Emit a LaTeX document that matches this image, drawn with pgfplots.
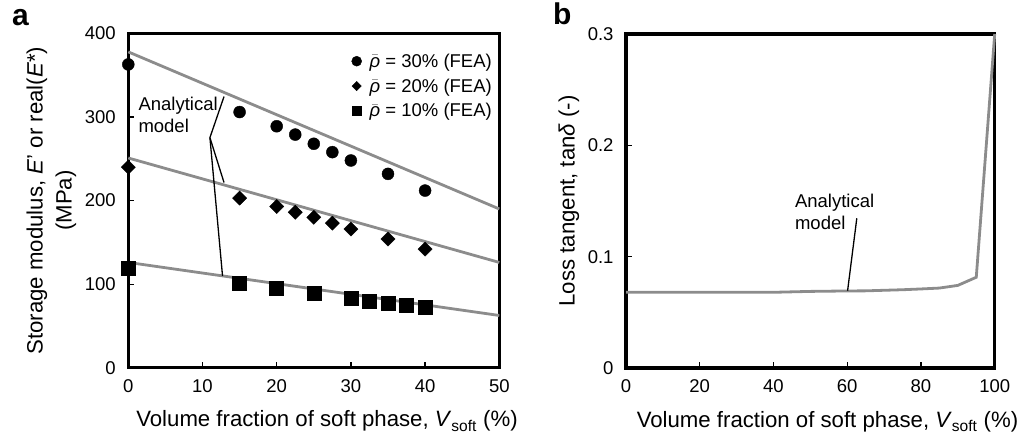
\documentclass[border=0pt]{standalone}
\usepackage{fontspec}
\setmainfont{Liberation Sans}
\usepackage{pgfplots}
\pgfplotsset{compat=1.18}
\definecolor{lgray}{RGB}{140,140,140}
\newcommand{\tickfont}{\fontsize{18.5}{21}\selectfont}
\newcommand{\labfont}{\fontsize{22.2}{29}\selectfont}
\newcommand{\annfont}{\fontsize{18.5}{21.7}\selectfont}
\pgfplotsset{
  myaxis/.style={
    scale only axis,
    anchor=south west,
    axis line style={line width=3.2pt},
    tick align=inside,
    xtick pos=bottom, ytick pos=left,
    major tick length=6pt,
    every tick/.style={black, line width=1.3pt},
    tick label style={font=\tickfont},
    /pgf/number format/assume math mode=true,
    /pgf/number format/fixed,
    yticklabel style={xshift=-9pt},
    xticklabel style={yshift=-8pt},
    clip=false,
    every axis x label/.style={font=\labfont, anchor=base},
    every axis y label/.style={font=\labfont, rotate=90, anchor=center, align=center},
  }
}
\begin{document}
\begin{tikzpicture}
\path (0pt,0pt) rectangle (1026pt,440pt);
\node[anchor=base west, font=\fontsize{30}{30}\selectfont\bfseries, inner sep=0pt] at (12pt,414pt) {a};
\node[anchor=base west, font=\fontsize{30}{30}\selectfont\bfseries, inner sep=0pt] at (553pt,415pt) {b};
% ---------------- panel a
\begin{axis}[myaxis,
  at={(128.3pt,72.3pt)}, width=371pt, height=334.2pt,
  xmin=0, xmax=50, ymin=0, ymax=400,
  xtick={0,10,20,30,40,50}, ytick={0,100,200,300,400},
  xlabel={Volume fraction of soft phase, \textit{V}\textsubscript{soft} (\%)},
  x label style={at={(axis description cs:0.5356,-0.1774)}},
  ylabel={Storage modulus, \textit{E}’ or real(\textit{E}*)\\(MPa)},
  y label style={at={(axis description cs:-0.207,0.5)}},
  legend style={at={(axis description cs:0.6016,0.946)}, anchor=north west, draw=none, fill=none,
     font=\annfont, row sep=6pt, inner sep=0pt, legend cell align=left},
  legend image code/.code={\draw[#1] plot coordinates {(0pt,0pt)}; \path[draw=none, fill=none] (0pt,0pt) -- (11pt,0pt);},
]
\addplot[lgray, line width=2.8pt, forget plot] coordinates {(0,378) (50,190)};
\addplot[lgray, line width=2.8pt, forget plot] coordinates {(0,251) (50,126)};
\addplot[lgray, line width=2.8pt, forget plot] coordinates {(0,126) (50,62.5)};
\addplot[only marks, mark=*, mark size=6pt, black, forget plot] coordinates {
 (0,363) (15,306) (20,289) (22.5,279) (25,268) (27.5,258) (30,248) (35,232) (40,212)};
\addplot[only marks, mark=square*, mark size=5pt, mark options={rotate=45}, black, forget plot] coordinates {
 (0,240) (15,203) (20,193) (22.5,186) (25,180) (27.5,173) (30,166) (35,154) (40,142)};
\addplot[only marks, mark=square*, mark size=7pt, black, forget plot] coordinates {
 (0,119) (15,101) (20,95) (25,89) (30,83) (32.5,80) (35,77) (37.5,75) (40,72)};
\addlegendimage{only marks, mark=*, mark size=5pt, black}
\addlegendentry{\(\bar{\mbox{\itshape ρ}}\) = 30\% (FEA)}
\addlegendimage{only marks, mark=square*, mark size=3.3pt, mark options={rotate=45}, black}
\addlegendentry{\(\bar{\mbox{\itshape ρ}}\) = 20\% (FEA)}
\addlegendimage{only marks, mark=square*, mark size=4.5pt, black}
\addlegendentry{\(\bar{\mbox{\itshape ρ}}\) = 10\% (FEA)}
\node[anchor=west, align=left, font=\annfont, inner sep=0pt] at (axis cs:1.35,303) {Analytical\\model};
\draw[line width=1.3pt] (axis cs:12.9,324.5) -- (axis cs:11.0,275.4) -- (axis cs:12.9,221.6);
\draw[line width=1.3pt] (axis cs:11.0,275.4) -- (axis cs:12.7,109.8);
\end{axis}
% ---------------- panel b
\begin{axis}[myaxis,
  at={(626pt,72pt)}, width=368.7pt, height=334pt,
  xmin=0, xmax=100, ymin=0, ymax=0.3,
  xtick={0,20,40,60,80,100}, ytick={0,0.1,0.2,0.3},
  xlabel={Volume fraction of soft phase, \textit{V}\textsubscript{soft} (\%)},
  x label style={at={(axis description cs:0.5465,-0.1774)}},
  ylabel={Loss tangent, tan{\itshape δ} (-)},
  y label style={at={(axis description cs:-0.1546,0.5)}},
]
\addplot[lgray, line width=2.8pt] coordinates {
 (0,0.068) (10,0.068) (20,0.068) (30,0.068) (40,0.068) (50,0.0688) (60,0.0692) (65,0.0693)
 (70,0.0698) (75,0.0703) (80,0.071) (85,0.0718) (90,0.0742) (95,0.0815) (100,0.3)};
\node[anchor=west, align=left, font=\annfont, inner sep=0pt] at (axis cs:45.8,0.1404) {Analytical\\model};
\draw[line width=1.3pt] (axis cs:60.1,0.0694) -- (axis cs:62.6,0.1345);
\end{axis}
\end{tikzpicture}
\end{document}
